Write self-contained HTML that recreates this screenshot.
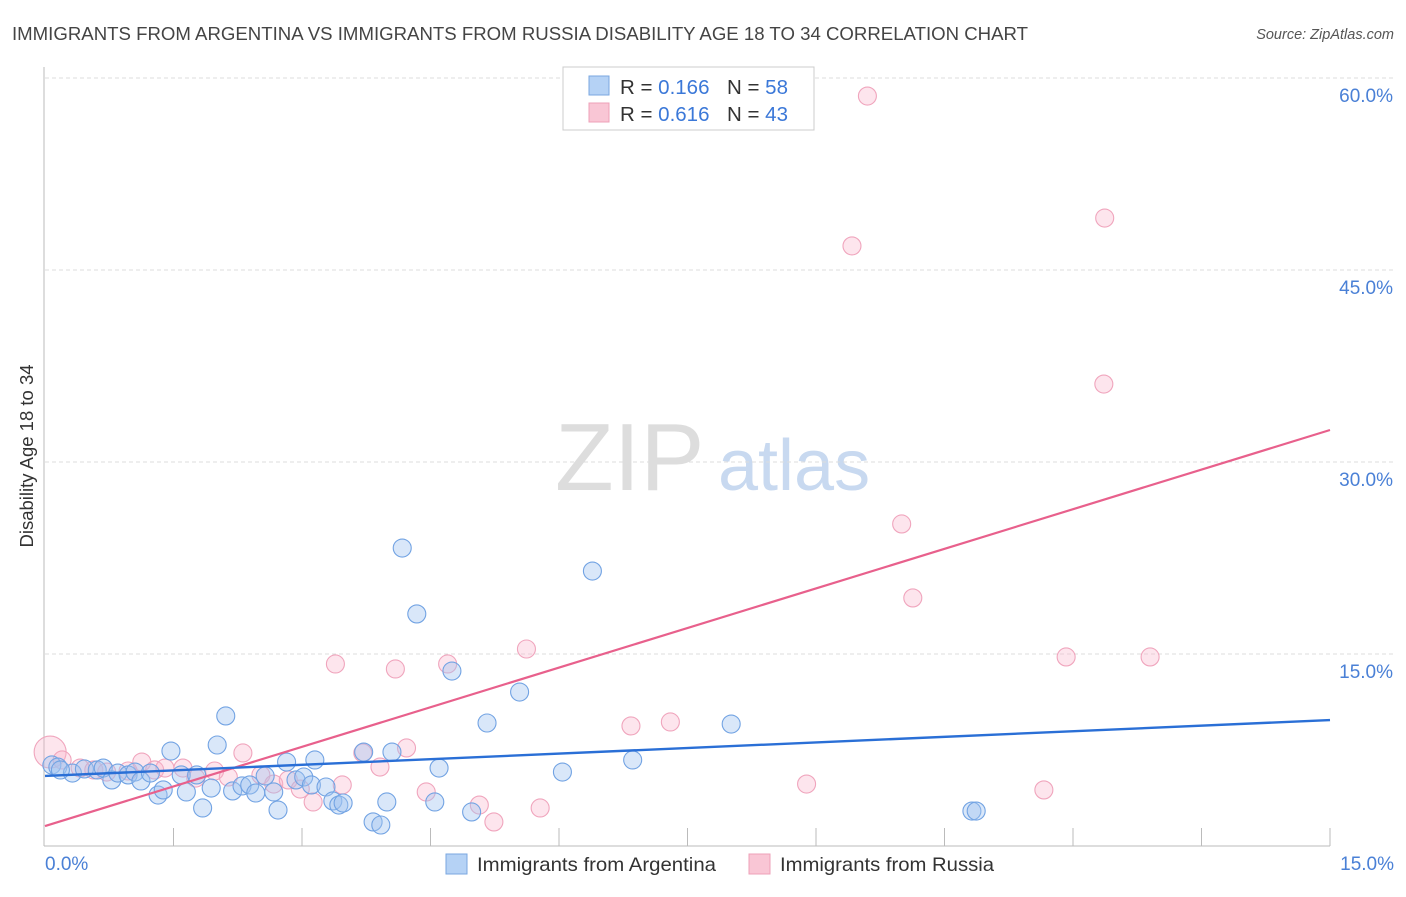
<!DOCTYPE html>
<html><head><meta charset="utf-8"><style>
body{margin:0;background:#fff;font-family:"Liberation Sans",sans-serif;}
svg text{font-family:"Liberation Sans",sans-serif;}
</style></head><body>
<svg id="chart" width="1406" height="892" xmlns="http://www.w3.org/2000/svg">
<text x="12" y="40" font-size="18" fill="#444" textLength="1016" lengthAdjust="spacingAndGlyphs">IMMIGRANTS FROM ARGENTINA VS IMMIGRANTS FROM RUSSIA DISABILITY AGE 18 TO 34 CORRELATION CHART</text>
<text x="1394" y="39" font-size="14.5" fill="#555" font-style="italic" text-anchor="end">Source: ZipAtlas.com</text>
<text x="33" y="456" font-size="18.5" fill="#333" text-anchor="middle" transform="rotate(-90 33 456)">Disability Age 18 to 34</text>
<g><text x="555" y="490" font-size="96" fill="#ddd" font-family="Liberation Serif">ZIP</text><text x="718" y="490" font-size="72" fill="#c8d9f0">atlas</text></g>
<g id="grid"></g><g id="marks"></g>
<g>
<rect x="563" y="67" width="251" height="63" fill="#fff" stroke="#ccc"/>
<rect x="589" y="76" width="20" height="19" fill="#b5d2f5" stroke="#7aa7e0"/>
<rect x="589" y="103" width="20" height="19" fill="#f9c6d5" stroke="#eea0b8"/>
<g font-size="20.5" fill="#333">
<text x="620" y="94">R = <tspan fill="#3b78d8">0.166</tspan></text>
<text x="727" y="94">N = <tspan fill="#3b78d8">58</tspan></text>
<text x="620" y="121">R = <tspan fill="#3b78d8">0.616</tspan></text>
<text x="727" y="121">N = <tspan fill="#3b78d8">43</tspan></text>
</g>
</g>
<g>
<rect x="446" y="854" width="21" height="20" fill="#b5d2f5" stroke="#7aa7e0"/>
<text x="477" y="871" font-size="19.5" fill="#333" textLength="239" lengthAdjust="spacingAndGlyphs">Immigrants from Argentina</text>
<rect x="749" y="854" width="21" height="20" fill="#f9c6d5" stroke="#eea0b8"/>
<text x="780" y="871" font-size="19.5" fill="#333" textLength="214" lengthAdjust="spacingAndGlyphs">Immigrants from Russia</text>
</g>
</svg>
<script>
const yTicks=[15,30,45,60];
const yTickLabels=["15.0%","30.0%","45.0%","60.0%"];
const xTickVals=[1.5,3,4.5,6,7.5,9,10.5,12,13.5,15];
const xEndLabels=["0.0%","15.0%"];
const argX=[0.08,0.15,0.32,0.46,0.61,0.68,0.78,0.85,0.97,1.05,1.12,1.23,1.32,1.38,1.47,1.59,1.65,1.77,1.84,1.94,2.01,2.11,2.19,2.30,2.39,2.46,2.57,2.67,2.72,2.82,2.93,3.02,3.11,3.15,3.28,3.36,3.43,3.48,3.72,3.83,3.92,3.99,4.05,4.17,4.34,4.55,4.60,4.75,4.98,5.16,5.54,6.04,6.39,6.86,8.01,10.82,10.87,0.18];
const argY=[6.33,6.17,5.70,6.02,5.94,6.09,5.16,5.70,5.55,5.78,5.08,5.70,3.98,4.38,7.42,5.55,4.22,5.55,2.97,4.53,7.89,10.16,4.30,4.69,4.77,4.14,5.47,4.22,2.81,6.56,5.16,5.39,4.77,6.72,4.61,3.52,3.20,3.36,7.34,1.88,1.64,3.44,7.34,23.28,18.13,3.44,6.09,13.67,2.66,9.61,12.03,5.78,21.48,6.72,9.53,2.73,2.73,5.94];
const rusX=[0.06,0.20,0.41,0.57,0.72,0.97,1.13,1.28,1.40,1.61,1.76,1.98,2.14,2.31,2.52,2.67,2.84,2.98,3.13,3.39,3.47,3.71,3.91,4.09,4.22,4.45,4.70,5.07,5.24,5.62,5.78,6.84,7.30,8.89,9.42,9.60,10.00,10.13,11.66,11.92,12.36,12.37,12.90];
const rusY=[7.34,6.72,6.09,5.94,5.78,5.86,6.56,5.94,6.09,6.09,5.31,5.86,5.39,7.27,5.55,4.84,5.16,4.45,3.44,14.22,4.77,7.27,6.17,13.83,7.66,4.22,14.22,3.20,1.88,15.39,2.97,9.38,9.69,4.84,46.88,58.59,25.16,19.38,4.38,14.77,36.09,49.06,14.77];
const argTrend=[5.47,9.84];
const rusTrend=[1.56,32.5];
const NS="http://www.w3.org/2000/svg";
const X0=45,X1=1330,Y0=846,PXY=12.8;
function sx(v){return X0+v/15*(X1-X0);}
function sy(v){return Y0-v*PXY;}
function mk(tag,attrs,parent){const e=document.createElementNS(NS,tag);for(const k in attrs)e.setAttribute(k,attrs[k]);parent.appendChild(e);return e;}
const grid=document.getElementById('grid'),marks=document.getElementById('marks');
let ax=mk('line',{x1:44,y1:67,x2:44,y2:846,stroke:'#bbb'},grid);


let bx=mk('line',{x1:44,y1:846,x2:1330,y2:846,stroke:'#bbb'},grid);


yTicks.forEach((t,i)=>{
 const g=mk('line',{x1:45,y1:sy(t),x2:1394,y2:sy(t),stroke:'#ddd','stroke-dasharray':'4,3'},grid);
 
 
 const l=mk('text',{x:1393,y:sy(t)+24,'font-size':19,fill:'#4a80d6','text-anchor':'end'},grid);l.textContent=yTickLabels[i];
 
 
});
xTickVals.forEach(t=>{
 const k=mk('line',{x1:sx(t),y1:828,x2:sx(t),y2:846,stroke:'#bbb'},grid);
 
 
});
let l0=mk('text',{x:45,y:870,'font-size':19,fill:'#4a80d6'},grid);l0.textContent=xEndLabels[0];


let l1=mk('text',{x:1394,y:870,'font-size':19,fill:'#4a80d6','text-anchor':'end'},grid);l1.textContent=xEndLabels[1];


rusX.forEach((x,i)=>{
 const c=mk('circle',{cx:sx(x),cy:sy(rusY[i]),r:i===0?16:9,fill:'rgba(248,180,202,0.35)',stroke:'#f0a5bd','stroke-width':1.1},marks);
 
 
});
argX.forEach((x,i)=>{
 const c=mk('circle',{cx:sx(x),cy:sy(argY[i]),r:9,fill:'rgba(160,196,240,0.4)',stroke:'#72a3e3','stroke-width':1.1},marks);
 
 
});
let t1=mk('line',{x1:sx(0),y1:sy(rusTrend[0]),x2:sx(15),y2:sy(rusTrend[1]),stroke:'#e8608c','stroke-width':2.2},marks);


let t2=mk('line',{x1:sx(0),y1:sy(argTrend[0]),x2:sx(15),y2:sy(argTrend[1]),stroke:'#2a6fd6','stroke-width':2.4},marks);


</script>
</body></html>
